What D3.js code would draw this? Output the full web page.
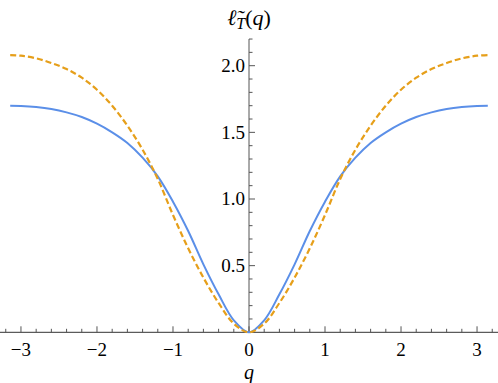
<!DOCTYPE html>
<html>
<head>
<meta charset="utf-8">
<script src="https://cdn.jsdelivr.net/npm/d3@7"></script>
<style>
  body { margin: 0; background: #fff; }
</style>
</head>
<body>
<div class="grafico-d3">
  <svg class="grafico-d3-svg"></svg>
</div>
<script>
// valores (curvas simétricas em q)
const Q = [-3.1416, -3.0, -2.8, -2.6, -2.4, -2.2, -2.0, -1.8, -1.6, -1.4, -1.2, -1.0, -0.8, -0.6, -0.4, -0.2,
           0, 0.2, 0.4, 0.6, 0.8, 1.0, 1.2, 1.4, 1.6, 1.8, 2.0, 2.2, 2.4, 2.6, 2.8, 3.0, 3.1416];
const L_AZUL = [1.70, 1.698, 1.69, 1.675, 1.65, 1.615, 1.565, 1.50, 1.42, 1.31, 1.17, 0.98, 0.76, 0.51, 0.285, 0.09,
                0, 0.09, 0.285, 0.51, 0.76, 0.98, 1.17, 1.31, 1.42, 1.50, 1.565, 1.615, 1.65, 1.675, 1.69, 1.698, 1.70];
const L_LARANJA = [2.08, 2.075, 2.055, 2.02, 1.975, 1.91, 1.82, 1.70, 1.55, 1.37, 1.15, 0.88, 0.63, 0.41, 0.22, 0.065,
                   0, 0.065, 0.22, 0.41, 0.63, 0.88, 1.15, 1.37, 1.55, 1.70, 1.82, 1.91, 1.975, 2.02, 2.055, 2.075, 2.08];

const X_TICKS = [-3, -2, -1, 0, 1, 2, 3];
const Y_TICKS = [0.5, 1.0, 1.5, 2.0];

// CAPS : constantes
const W = 498, H = 383;
const FONTE = "'Liberation Serif', 'Times New Roman', Times, serif";
const COR_AZUL = '#5b8fe8';
const COR_LARANJA = '#e69f1a';
const COR_EIXO = '#555';

const $svg = d3.select('.grafico-d3-svg')
  .attr('width', W)
  .attr('height', H);

const x = d3.scaleLinear().domain([-Math.PI, Math.PI]).range([10.2, 487.8]);
const y = d3.scaleLinear().domain([0, 2]).range([332.3, 65.7]);

const X0 = x(0), Y0 = y(0);

// eixo horizontal (passa pela origem)
$svg.append('line')
  .attr('x1', 0).attr('x2', W)
  .attr('y1', Y0).attr('y2', Y0)
  .attr('stroke', '#333').attr('stroke-width', 1);

// eixo vertical
$svg.append('line')
  .attr('x1', X0).attr('x2', X0)
  .attr('y1', y(2.2)).attr('y2', Y0)
  .attr('stroke', COR_EIXO).attr('stroke-width', 1);

// ticks menores de 0.2 em x, maiores nos inteiros
const xMenores = d3.range(-16, 17).map(i => i * 0.2);
$svg.append('g').selectAll('line')
  .data(xMenores)
  .enter().append('line')
  .attr('x1', d => x(d)).attr('x2', d => x(d))
  .attr('y1', Y0)
  .attr('y2', d => Math.abs(d - Math.round(d)) < 1e-6 ? Y0 - 6 : Y0 - 3.5)
  .attr('stroke', COR_EIXO).attr('stroke-width', 1);

$svg.append('g').selectAll('text')
  .data(X_TICKS)
  .enter().append('text')
  .attr('style', 'font-family: ' + FONTE)
  .attr('x', d => x(d))
  .attr('y', 356)
  .attr('text-anchor', 'middle')
  .attr('font-size', 19)
  .text(d => d < 0 ? '\u2212' + Math.abs(d) : d);

// ticks em y de 0.1 em 0.1
const yMenores = d3.range(1, 23).map(i => i * 0.1);
$svg.append('g').selectAll('line')
  .data(yMenores)
  .enter().append('line')
  .attr('y1', d => y(d)).attr('y2', d => y(d))
  .attr('x1', X0)
  .attr('x2', d => Math.abs(d * 2 - Math.round(d * 2)) < 1e-6 ? X0 + 6 : X0 + 3.5)
  .attr('stroke', COR_EIXO).attr('stroke-width', 1);

$svg.append('g').selectAll('text')
  .data(Y_TICKS)
  .enter().append('text')
  .attr('style', 'font-family: ' + FONTE)
  .attr('x', X0 - 4)
  .attr('y', d => y(d))
  .attr('dy', '0.33em')
  .attr('text-anchor', 'end')
  .attr('font-size', 19)
  .text(d => d.toFixed(1));

// curvas
const dados = Q.map((q, i) => ({ q, azul: L_AZUL[i], laranja: L_LARANJA[i] }));

const linhaAzul = d3.line().x(d => x(d.q)).y(d => y(d.azul)).curve(d3.curveCatmullRom.alpha(0.5));
const linhaLaranja = d3.line().x(d => x(d.q)).y(d => y(d.laranja)).curve(d3.curveCatmullRom.alpha(0.5));

$svg.append('path')
  .datum(dados)
  .attr('d', linhaAzul)
  .attr('fill', 'none')
  .attr('stroke', COR_AZUL)
  .attr('stroke-width', 2);

$svg.append('path')
  .datum(dados)
  .attr('d', linhaLaranja)
  .attr('fill', 'none')
  .attr('stroke', COR_LARANJA)
  .attr('stroke-width', 2.2)
  .attr('stroke-dasharray', '6,3');

// títulos dos eixos
const $titulo = $svg.append('text')
  .attr('style', 'font-family: ' + FONTE)
  .attr('x', X0)
  .attr('y', 25)
  .attr('text-anchor', 'middle')
  .attr('font-size', 22);
$titulo.append('tspan').attr('font-style', 'italic').text('\u2113\u0303');
$titulo.append('tspan').attr('font-style', 'italic').attr('font-size', 16).attr('dy', 4).text('T');
$titulo.append('tspan').attr('dy', -4).text('(');
$titulo.append('tspan').attr('font-style', 'italic').text('q');
$titulo.append('tspan').text(')');

$svg.append('text')
  .attr('style', 'font-family: ' + FONTE)
  .attr('x', X0)
  .attr('y', 379)
  .attr('text-anchor', 'middle')
  .attr('font-size', 20)
  .attr('font-style', 'italic')
  .text('q');
</script>
</body>
</html>
